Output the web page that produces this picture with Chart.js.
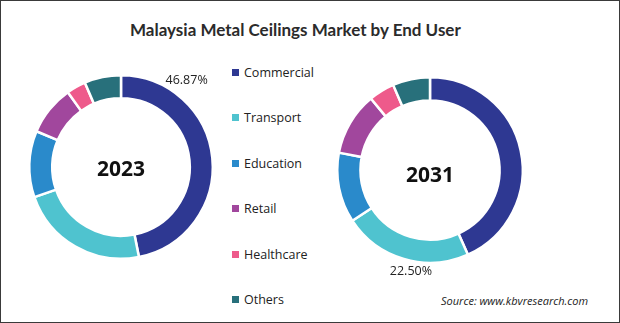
<!DOCTYPE html>
<html>
<head>
<meta charset="utf-8">
<script src="https://cdn.jsdelivr.net/npm/chart.js@4"></script>
<style>
  html, body { margin: 0; padding: 0; background: #fff; }
  #frame {
    position: relative; width: 620px; height: 323px; box-sizing: border-box;
    border: 1px solid #3a3a3a; background: #fff; overflow: hidden;
    font-family: "Open Sans", sans-serif; color: #222;
  }
  #title {
    position: absolute; left: 129px; top: 18px; white-space: nowrap;
    font-family: Lato, sans-serif; font-weight: bold; font-size: 17px; color: #2b2b2b;
  }
  .donut { position: absolute; }
  #legend { position: absolute; left: 231px; top: 0; }
  .item { position: absolute; left: 0; white-space: nowrap; font-size: 12.5px; color: #222; }
  .item span.box { display: inline-block; width: 7px; height: 7px; margin-right: 5px; vertical-align: 1px; }
  #source {
    position: absolute; left: 440px; top: 292px; font-style: italic; font-size: 11px; color: #222;
  }
</style>
</head>
<body>
<div id="frame">
  <div id="title">Malaysia Metal Ceilings Market by End User</div>
  <canvas id="chart2023" class="donut" width="218" height="218" style="left:11px; top:57px;"></canvas>
  <canvas id="chart2031" class="donut" width="220" height="220" style="left:319px; top:59px;"></canvas>
  <div id="legend"></div>
  <div id="source">Source: www.kbvresearch.com</div>
</div>
<script>
// 区分と各年のシェア (%)
const categories = ['Commercial', 'Transport', 'Education', 'Retail', 'Healthcare', 'Others'];
const share2023 = [46.87, 22.8, 11.7, 8.8, 3.4, 6.43];
const share2031 = [43.3, 22.5, 12.2, 11.0, 4.5, 6.5];
const colors = ['#2e3892', '#4fc3cf', '#2a8acb', '#a1479d', '#ee5a8b', '#28707b'];
const legendTops = [63, 108, 154, 199, 245, 290];

// 凡例
const legendEl = document.getElementById('legend');
categories.forEach((name, i) => {
    const div = document.createElement('div');
    div.className = 'item';
    div.style.top = legendTops[i] + 'px';
    div.innerHTML = `<span class="box" style="background:${colors[i]}"></span>${name}`;
    legendEl.appendChild(div);
});

// 中央の年ラベルと、指定した区分の数値ラベルを描くプラグイン
const donutText = {
    id: 'donutText',
    afterDatasetsDraw(chart, args, opts) {
        const ctx = chart.ctx;
        const arcs = chart.getDatasetMeta(0).data;
        const cx = arcs[0].x, cy = arcs[0].y;
        ctx.save();
        ctx.textAlign = 'center';
        ctx.textBaseline = 'middle';
        ctx.fillStyle = '#111';
        ctx.font = 'bold 21px "Open Sans"';
        ctx.fillText(opts.year, cx, cy + opts.yearShift);

        const arc = arcs[opts.index];
        const a = arc.startAngle + (arc.endAngle - arc.startAngle) * opts.along;
        const r = arc.outerRadius + opts.gap;
        const value = chart.data.datasets[0].data[opts.index];
        ctx.font = '12.5px "Open Sans"';
        ctx.fillStyle = '#222';
        ctx.fillText(value.toFixed(2) + '%', cx + Math.cos(a) * r, cy + Math.sin(a) * r);
        ctx.restore();
    }
};

function makeDonut(id, values, textOpts) {
    return new Chart(document.getElementById(id), {
        type: 'doughnut',
        data: {
            labels: categories,
            datasets: [{
                data: values,
                backgroundColor: colors,
                borderColor: '#ffffff',
                borderWidth: 2.5
            }]
        },
        options: {
            responsive: false,
            animation: false,
            cutout: '75%',
            layout: { padding: 16 },
            plugins: {
                legend: { display: false },
                tooltip: { enabled: false },
                donutText: textOpts
            }
        },
        plugins: [donutText]
    });
}

makeDonut('chart2023', share2023, { year: '2023', yearShift: 3, index: 0, along: 0.22, gap: 17 });
makeDonut('chart2031', share2031, { year: '2031', yearShift: 6, index: 1, along: 0.43, gap: 10 });
</script>
</body>
</html>
